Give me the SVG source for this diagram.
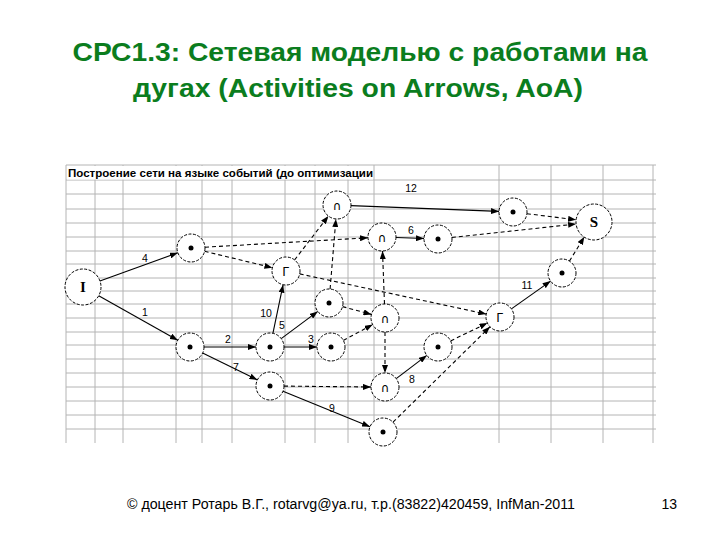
<svg xmlns="http://www.w3.org/2000/svg" width="720" height="540" viewBox="0 0 720 540">
<defs>
<marker id="ah" markerUnits="userSpaceOnUse" markerWidth="8" markerHeight="6" refX="8" refY="3" orient="auto"><path d="M0,0 L8,3 L0,6 z" fill="#000"/></marker>
<style>
.g{stroke:#b4b4b4;stroke-width:1}
.n{fill:#fff;stroke:#000;stroke-width:1;stroke-dasharray:3 1.5}
.e{stroke:#000;stroke-width:1.1;fill:none;marker-end:url(#ah)}
.d{stroke-dasharray:4 3}
.l{font-family:"Liberation Sans",Arial,sans-serif;font-size:10.5px;text-anchor:middle;fill:#000}
.s{font-family:"DejaVu Sans",sans-serif;font-size:12px;text-anchor:middle;fill:#000}
.b{font-family:"Liberation Serif","Times New Roman",serif;font-weight:bold;font-size:15px;text-anchor:middle;fill:#000}
.t{font-family:"Liberation Sans",Arial,sans-serif;font-weight:bold;font-size:26px;fill:#0b7d1e;text-anchor:middle}
</style>
</defs>
<rect width="720" height="540" fill="#fff"/>
<text class="t" x="360" y="61" textLength="575" lengthAdjust="spacingAndGlyphs">СРС1.3: Сетевая моделью с работами на</text>
<text class="t" x="358" y="97" textLength="450" lengthAdjust="spacingAndGlyphs">дугах (Activities on Arrows, AoA)</text>
<g id="grid">
<g class="g">
<line x1="66" y1="165" x2="656" y2="165"/><line x1="66" y1="180" x2="656" y2="180"/><line x1="66" y1="194" x2="656" y2="194"/><line x1="66" y1="209" x2="656" y2="209"/><line x1="66" y1="223" x2="656" y2="223"/><line x1="66" y1="237" x2="656" y2="237"/><line x1="66" y1="251" x2="656" y2="251"/><line x1="66" y1="264" x2="656" y2="264"/><line x1="66" y1="278" x2="656" y2="278"/><line x1="66" y1="291" x2="656" y2="291"/><line x1="66" y1="304" x2="656" y2="304"/><line x1="66" y1="318" x2="656" y2="318"/><line x1="66" y1="332" x2="656" y2="332"/><line x1="66" y1="345" x2="656" y2="345"/><line x1="66" y1="359" x2="656" y2="359"/><line x1="66" y1="373" x2="656" y2="373"/><line x1="66" y1="387" x2="656" y2="387"/><line x1="66" y1="401" x2="656" y2="401"/><line x1="66" y1="415" x2="656" y2="415"/><line x1="66" y1="429" x2="656" y2="429"/>
<line x1="66" y1="165" x2="66" y2="443"/><line x1="95" y1="165" x2="95" y2="443"/><line x1="123" y1="165" x2="123" y2="443"/><line x1="176" y1="165" x2="176" y2="443"/><line x1="202" y1="165" x2="202" y2="443"/><line x1="232" y1="165" x2="232" y2="443"/><line x1="285" y1="165" x2="285" y2="443"/><line x1="315" y1="165" x2="315" y2="443"/><line x1="348" y1="165" x2="348" y2="443"/><line x1="374" y1="165" x2="374" y2="443"/><line x1="499" y1="165" x2="499" y2="443"/><line x1="551" y1="165" x2="551" y2="443"/><line x1="603" y1="165" x2="603" y2="443"/><line x1="653" y1="165" x2="653" y2="443"/>
</g>
<rect x="67" y="166" width="306" height="13.5" fill="#fff"/>
<text x="68" y="177" font-family="Liberation Sans, Arial, sans-serif" font-weight="bold" font-size="11" fill="#000" textLength="305" lengthAdjust="spacingAndGlyphs">Построение сети на языке событий (до оптимизации</text>
</g>
<g id="connectors">
<line class="e" x1="99.9" y1="280.9" x2="177.8" y2="252.8"/>
<line class="e" x1="98.7" y1="295.8" x2="177.8" y2="340.2"/>
<line class="e" x1="204" y1="347" x2="256" y2="347"/>
<line class="e" x1="202.6" y1="353.1" x2="257.4" y2="379.9"/>
<line class="e" x1="284" y1="347" x2="317" y2="347"/>
<line class="e" x1="272.9" y1="333.3" x2="283.1" y2="284.7"/>
<line class="e" x1="281.2" y1="338.6" x2="317.8" y2="311.4"/>
<line class="e" x1="283" y1="391.3" x2="370" y2="426.7"/>
<line class="e" x1="396.2" y1="378.6" x2="426.8" y2="355.4"/>
<line class="e" x1="396" y1="237.5" x2="424" y2="238.5"/>
<line class="e" x1="351" y1="205.6" x2="499" y2="211.4"/>
<line class="e" x1="511.4" y1="308.9" x2="550.6" y2="281.1"/>
<line class="e d" x1="205" y1="247.2" x2="368" y2="237.8"/>
<line class="e d" x1="204.6" y1="251.3" x2="272.4" y2="267.7"/>
<line class="e d" x1="294.6" y1="259.9" x2="328.4" y2="216.1"/>
<line class="e d" x1="299.7" y1="273.9" x2="486.3" y2="314.1"/>
<line class="e d" x1="330.1" y1="289" x2="335.9" y2="219"/>
<line class="e d" x1="342.5" y1="306.6" x2="371.5" y2="314.4"/>
<line class="e d" x1="343.3" y1="340.4" x2="372.7" y2="324.6"/>
<line class="e d" x1="384.5" y1="304" x2="382.5" y2="251"/>
<line class="e d" x1="385" y1="332" x2="385" y2="373"/>
<line class="e d" x1="284" y1="386.1" x2="371" y2="387"/>
<line class="e d" x1="450.6" y1="340.9" x2="487.4" y2="323.1"/>
<line class="e d" x1="393" y1="422.2" x2="490" y2="326.8"/>
<line class="e d" x1="526.9" y1="213.7" x2="576.1" y2="219.8"/>
<line class="e d" x1="451.9" y1="237.5" x2="576.1" y2="224"/>
<line class="e d" x1="569.4" y1="261.1" x2="584.4" y2="236.8"/>
<text class="l" x="145" y="262">4</text>
<text class="l" x="145" y="316">1</text>
<text class="l" x="228" y="343">2</text>
<text class="l" x="311" y="343">3</text>
<text class="l" x="236" y="371">7</text>
<text class="l" x="332" y="412">9</text>
<text class="l" x="412" y="383">8</text>
<text class="l" x="266" y="317">10</text>
<text class="l" x="282" y="329">5</text>
<text class="l" x="527" y="289">11</text>
<text class="l" x="411" y="234">6</text>
<text class="l" x="411" y="192">12</text>
</g>
<g id="nI"><circle class="n" cx="83" cy="287" r="18"/><text class="b" x="83" y="292">I</text></g>
<g id="nS"><circle class="n" cx="594" cy="222" r="18"/><text class="b" x="594" y="227">S</text></g>
<g id="nA"><circle class="n" cx="191" cy="248" r="14"/><circle cx="191" cy="248" r="2.5"/></g>
<g id="nB"><circle class="n" cx="190" cy="347" r="14"/><circle cx="190" cy="347" r="2.5"/></g>
<g id="nC"><circle class="n" cx="270" cy="347" r="14"/><circle cx="270" cy="347" r="2.5"/></g>
<g id="nD"><circle class="n" cx="331" cy="347" r="14"/><circle cx="331" cy="347" r="2.5"/></g>
<g id="nE"><circle class="n" cx="270" cy="386" r="14"/><circle cx="270" cy="386" r="2.5"/></g>
<g id="nF"><circle class="n" cx="383" cy="432" r="14"/><circle cx="383" cy="432" r="2.5"/></g>
<g id="nN5"><circle class="n" cx="329" cy="303" r="14"/><circle cx="329" cy="303" r="2.5"/></g>
<g id="nN6"><circle class="n" cx="438" cy="239" r="14"/><circle cx="438" cy="239" r="2.5"/></g>
<g id="nN8"><circle class="n" cx="438" cy="347" r="14"/><circle cx="438" cy="347" r="2.5"/></g>
<g id="nN11"><circle class="n" cx="562" cy="273" r="14"/><circle cx="562" cy="273" r="2.5"/></g>
<g id="nN12"><circle class="n" cx="513" cy="212" r="14"/><circle cx="513" cy="212" r="2.5"/></g>
<g id="nG1"><circle class="n" cx="286" cy="271" r="14"/><text class="s" x="286" y="276">Г</text></g>
<g id="nG2"><circle class="n" cx="500" cy="317" r="14"/><text class="s" x="500" y="322">Г</text></g>
<g id="nUt"><circle class="n" cx="337" cy="205" r="14"/><text class="s" x="337" y="210">∩</text></g>
<g id="nU2"><circle class="n" cx="382" cy="237" r="14"/><text class="s" x="382" y="242">∩</text></g>
<g id="nU3"><circle class="n" cx="385" cy="318" r="14"/><text class="s" x="385" y="323">∩</text></g>
<g id="nU4"><circle class="n" cx="385" cy="387" r="14"/><text class="s" x="385" y="392">∩</text></g>
<text x="127" y="509" font-family="Liberation Sans, Arial, sans-serif" font-size="14" fill="#000" textLength="448" lengthAdjust="spacingAndGlyphs">© доцент Ротарь В.Г., rotarvg@ya.ru, т.р.(83822)420459, InfMan-2011</text>
<text x="677" y="509" font-family="Liberation Sans, Arial, sans-serif" font-size="14" fill="#000" text-anchor="end">13</text>
</svg>
